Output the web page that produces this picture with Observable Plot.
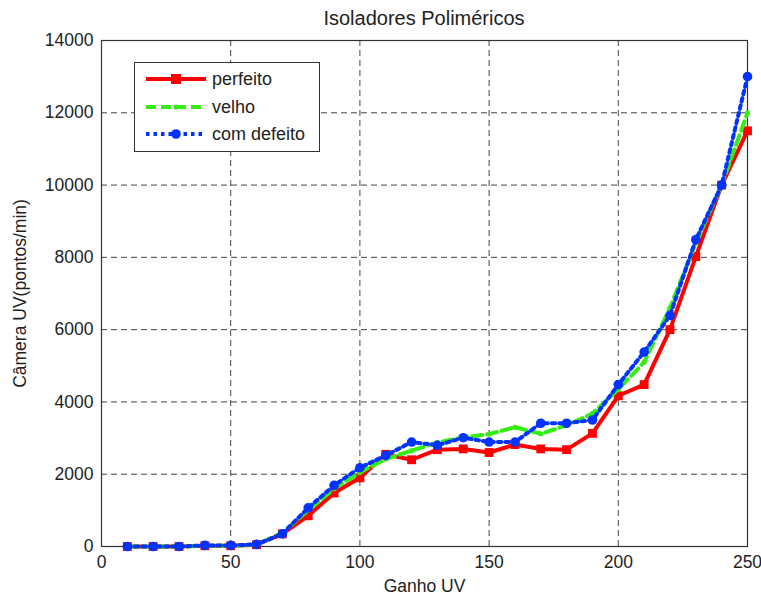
<!DOCTYPE html>
<html>
<head>
<meta charset="utf-8">
<script src="https://cdn.jsdelivr.net/npm/d3@7"></script>
<script src="https://cdn.jsdelivr.net/npm/@observablehq/plot@0.6"></script>
<style>
  body { margin: 0; background: #fff; font-family: "Liberation Sans", Arial, sans-serif; }
  #wrap { position: relative; width: 761px; height: 596px; overflow: hidden; }
  #title { position: absolute; left: 101px; width: 646px; top: 7px; text-align: center; font-size: 20px; color: #222; line-height: 23px; }
  #chart { position: absolute; left: 0; top: 30px; }
  #legend { position: absolute; left: 134px; top: 62px; width: 186px; height: 90px; border: 1px solid #333; background: #fff; box-sizing: border-box; }
  .row { position: absolute; left: 0; height: 20px; display: flex; align-items: center; font-size: 18px; color: #222; }
  .row svg { margin-left: 11px; margin-right: 6px; }
</style>
</head>
<body>
<div id="wrap">
  <div id="title">Isoladores Poliméricos</div>
  <div id="chart"></div>
  <div id="legend"></div>
</div>
<script>
const ganho = [10,20,30,40,50,60,70,80,90,100,110,120,130,140,150,160,170,180,190,200,210,220,230,240,250];
const perfeito = [0,0,0,20,20,50,350,850,1480,1900,2550,2400,2680,2700,2600,2820,2700,2680,3130,4170,4480,6000,8020,10000,11500];
const velho = [0,0,0,20,20,50,380,1000,1600,2050,2420,2650,2880,3020,3110,3300,3120,3350,3680,4350,5100,6600,8400,10000,12000];
const comDefeito = [0,0,0,30,30,60,350,1070,1690,2180,2520,2890,2800,3010,2890,2890,3410,3410,3500,4480,5380,6390,8490,10000,13000];
const seriesNames = ["perfeito", "velho", "com defeito"];
const xTicks = [0,50,100,150,200,250];
const yTicks = [0,2000,4000,6000,8000,10000,12000,14000];

const colors = {"perfeito": "#ff0000", "velho": "#33ee11", "com defeito": "#0033ff"};
const styles = {
  "perfeito": {dash: null, marker: "square", r: 5},
  "velho": {dash: "10,5", marker: "circle", r: 2.6},
  "com defeito": {dash: "3.5,4", marker: "circle", r: 4.8}
};
const valuesBy = {"perfeito": perfeito, "velho": velho, "com defeito": comDefeito};
const rows = [];
for (const s of seriesNames) valuesBy[s].forEach((v, i) => rows.push({series: s, x: ganho[i], y: v}));

const marks = [
  Plot.gridX(xTicks, {stroke: "#222", strokeOpacity: 0.85, strokeDasharray: "6,4"}),
  Plot.gridY(yTicks, {stroke: "#222", strokeOpacity: 0.85, strokeDasharray: "6,4"}),
  Plot.frame({stroke: "#333", strokeWidth: 1.2}),
  Plot.axisX({ticks: xTicks, tickSize: 0, tickPadding: 9, fontSize: 17.5, label: "Ganho UV", labelAnchor: "center", labelOffset: 45, labelArrow: "none"}),
  Plot.axisY({ticks: yTicks, tickFormat: "d", tickSize: 0, tickPadding: 8, fontSize: 17.5, label: "Câmera UV(pontos/min)", labelAnchor: "center", labelOffset: 88, labelArrow: "none"})
];
for (const s of seriesNames) {
  const d = rows.filter(r => r.series === s);
  const st = styles[s];
  marks.push(Plot.line(d, {x: "x", y: "y", stroke: colors[s], strokeWidth: 4, strokeDasharray: st.dash, strokeLinejoin: "round"}));
  if (st.marker === "square") {
    marks.push(Plot.dot(d, {x: "x", y: "y", symbol: "square", r: st.r, fill: colors[s], stroke: "none"}));
  } else {
    marks.push(Plot.dot(d, {x: "x", y: "y", r: st.r, fill: colors[s], stroke: "none"}));
  }
}

const chart = Plot.plot({
  width: 761,
  height: 566,
  marginLeft: 101,
  marginRight: 14,
  marginTop: 10,
  marginBottom: 50,
  style: {fontFamily: "Liberation Sans, Arial, sans-serif", fontSize: "18px", color: "#222", background: "#fff", overflow: "visible"},
  x: {domain: [0, 250]},
  y: {domain: [0, 14000]},
  marks
});
document.getElementById("chart").appendChild(chart);

// Legend
const legend = document.getElementById("legend");
const rowTops = [6, 34, 61];
seriesNames.forEach((s, i) => {
  const st = styles[s];
  const row = document.createElement("div");
  row.className = "row";
  row.style.top = rowTops[i] + "px";
  const svg = d3.create("svg").attr("width", 60).attr("height", 20);
  svg.append("line").attr("x1", 0).attr("x2", 60).attr("y1", 10).attr("y2", 10)
    .attr("stroke", colors[s]).attr("stroke-width", 4).attr("stroke-dasharray", st.dash);
  if (st.marker === "square") {
    svg.append("rect").attr("x", 30 - 5).attr("y", 5).attr("width", 10).attr("height", 10).attr("fill", colors[s]);
  } else {
    svg.append("circle").attr("cx", 30).attr("cy", 10).attr("r", st.r).attr("fill", colors[s]);
  }
  row.appendChild(svg.node());
  const t = document.createElement("span");
  t.textContent = s;
  row.appendChild(t);
  legend.appendChild(row);
});
</script>
</body>
</html>
